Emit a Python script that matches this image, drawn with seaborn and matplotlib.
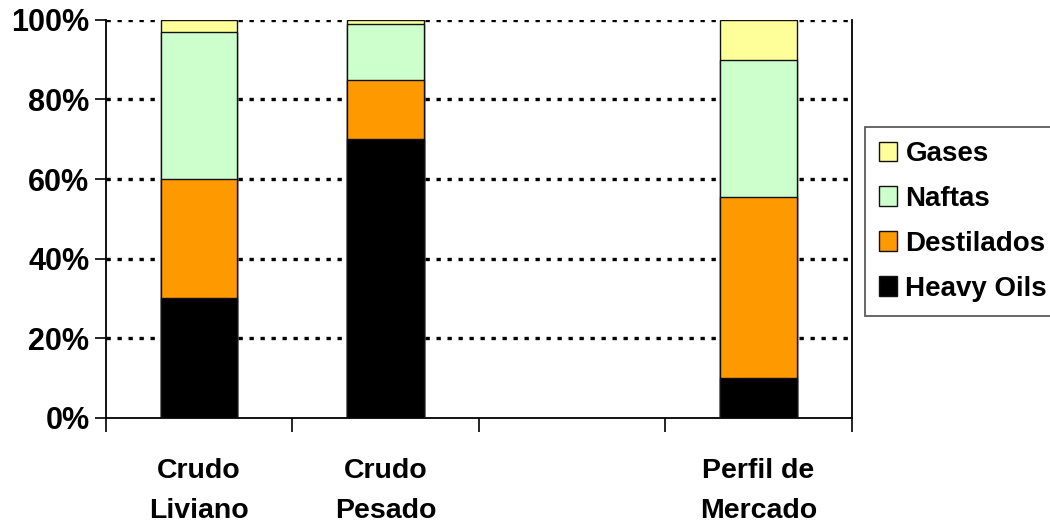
import numpy as np
import pandas as pd
import matplotlib
matplotlib.use("Agg")
import matplotlib.pyplot as plt
from matplotlib.patches import Patch
from matplotlib.ticker import FixedLocator
import seaborn as sns

# Composition of each crude / market profile (percent of total)
categories = ["Crudo\nLiviano", "Crudo\nPesado", " ", "Perfil de\nMercado"]
series_names = ["Gases", "Naftas", "Destilados", "Heavy Oils"]
heavy_oils = [30, 70, None, 10]
destilados = [30, 15, None, 45.5]
naftas = [37, 14, None, 34.5]
gases = [3, 1, None, 10]
colors = {"Gases": "#FFFF99", "Naftas": "#CCFFCC",
          "Destilados": "#FF9900", "Heavy Oils": "#000000"}
yticks = [0, 20, 40, 60, 80, 100]

sns.set_theme(style="white")
plt.rcParams["font.family"] = ["Liberation Sans", "DejaVu Sans"]
plt.rcParams["font.weight"] = "bold"
plt.rcParams["text.color"] = "black"
plt.rcParams["xtick.color"] = "black"
plt.rcParams["ytick.color"] = "black"

df = pd.DataFrame({"categoria": categories,
                   "Heavy Oils": heavy_oils, "Destilados": destilados,
                   "Naftas": naftas, "Gases": gases}).dropna()
# cumulative tops for stacking
stack_order = ["Heavy Oils", "Destilados", "Naftas", "Gases"]
cum = df[stack_order].cumsum(axis=1)
cum["categoria"] = df["categoria"]

fig = plt.figure(figsize=(10.5, 5.23), dpi=100)
ax = fig.add_axes([0.101, 0.201, 0.710, 0.761])

for name in reversed(stack_order):
    sns.barplot(data=cum, x="categoria", y=name, order=categories,
                color=colors[name], width=0.41, edgecolor="#111111",
                linewidth=1.0, saturation=1, ax=ax, zorder=3)

ax.set_xlim(-0.5, 3.5)
ax.set_ylim(0, 100)
ax.set_xlabel("")
ax.set_ylabel("")
ax.set_yticks(yticks)
ax.set_yticklabels([f"{v}%" for v in yticks], fontsize=22, fontweight="bold",
                   color="black")
ax.set_xticks(range(len(categories)))
ax.set_xticklabels(categories, fontsize=20.5, fontweight="bold",
                   linespacing=1.7, color="black")
ax.xaxis.set_minor_locator(FixedLocator(np.arange(-0.5, 3.6, 1.0)))
ax.tick_params(axis="x", which="major", length=0, pad=29)
ax.tick_params(axis="x", which="minor", length=10, width=1.2, color="black",
               direction="out", bottom=True)
ax.tick_params(axis="y", length=8, width=1.2, color="black", direction="out",
               left=True, pad=4)

for y in yticks[1:]:
    ax.axhline(y, color="black", linestyle=(0, (1.3, 2.0)), linewidth=2.4,
               zorder=1)

for side in ["left", "bottom", "right"]:
    ax.spines[side].set_visible(True)
    ax.spines[side].set_color("black")
    ax.spines[side].set_linewidth(1.3)
ax.spines["top"].set_visible(False)

handles = [Patch(facecolor=colors[n], edgecolor="#111111", linewidth=1.0)
           for n in series_names]
leg = fig.legend(handles, series_names, loc="upper left",
                 bbox_to_anchor=(0.824, 0.757), frameon=True, fancybox=False,
                 edgecolor="#333333", fontsize=20, handlelength=0.65,
                 handleheight=0.7, handletextpad=0.3, labelspacing=0.68,
                 borderpad=0.5, borderaxespad=0)
leg.get_frame().set_linewidth(1.3)
for t in leg.get_texts():
    t.set_fontweight("bold")
    t.set_color("black")

fig.savefig("out.png", dpi=100)
